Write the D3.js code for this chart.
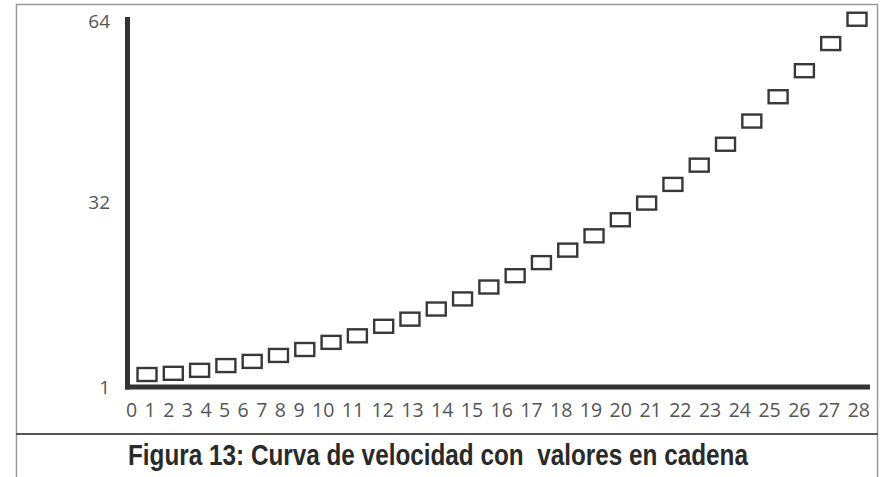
<!DOCTYPE html>
<html>
<head>
<meta charset="utf-8">
<script src="https://cdn.jsdelivr.net/npm/d3@7"></script>
<style>
  body { margin: 0; background: #fff; }
  svg { display: block; }
</style>
</head>
<body>
<script>
// values
var steps = d3.range(1, 29);
var speed = [3.1, 3.3, 3.8, 4.6, 5.3, 6.3, 7.3, 8.5, 9.6, 11.2,
             12.4, 14.1, 15.8, 17.8, 19.7, 21.9, 24.0, 26.4, 29.1, 31.9,
             35.2, 38.6, 42.3, 46.4, 50.7, 55.3, 60.1, 64.4];
var xLabels = d3.range(0, 29).map(String);
var yTicks = [1, 32, 64];
var caption = "Figura 13: Curva de velocidad con\u00a0 valores en cadena";

var width = 888, height = 477;
var axisX = 127.5, axisY = 387, axisTop = 17, axisRight = 870;

var svg = d3.select("body").append("svg")
    .attr("width", width)
    .attr("height", height);

// outer frame + caption separator
svg.append("rect")
    .attr("x", 16.5).attr("y", 4.5)
    .attr("width", 861).attr("height", 490)
    .attr("fill", "none")
    .attr("stroke", "#9a9a9a")
    .attr("stroke-width", 1.5);

svg.append("line")
    .attr("x1", 16).attr("x2", 878)
    .attr("y1", 434).attr("y2", 434)
    .attr("stroke", "#555")
    .attr("stroke-width", 2);

var x = d3.scaleLinear().domain([1, 28]).range([147, 857]);
// the printed scale is not quite even between 1-32 and 32-64
var y = d3.scaleLinear().domain([1, 32, 64]).range([387, 202.5, 21.5]);

// y tick labels
var yAxis = svg.append("g")
    .attr("transform", "translate(110,0)")
    .call(d3.axisLeft(y).tickValues(yTicks).tickSize(0).tickPadding(0));
yAxis.select(".domain").remove();
yAxis.selectAll("text")
    .style("font-family", "'Open Sans', sans-serif")
    .style("font-size", "19px")
    .attr("fill", "#555");

// axis lines
svg.append("line")
    .attr("x1", axisX).attr("x2", axisX)
    .attr("y1", axisTop).attr("y2", axisY + 2.5)
    .attr("stroke", "#333")
    .attr("stroke-width", 5);
svg.append("line")
    .attr("x1", axisX - 2.5).attr("x2", axisRight)
    .attr("y1", axisY).attr("y2", axisY)
    .attr("stroke", "#333")
    .attr("stroke-width", 5);

// x labels: typeset as a run of text spread over the axis length
var xl = svg.append("g").attr("class", "x-labels");
var labs = xl.selectAll("text")
    .data(xLabels)
    .enter().append("text")
    .attr("y", 417)
    .style("font-family", "'Open Sans', sans-serif")
    .style("font-size", "19.5px")
    .attr("fill", "#555")
    .text(function (d) { return d; });

var widths = [];
labs.each(function () { widths.push(this.getComputedTextLength()); });
var gap = (axisRight - 126 - d3.sum(widths)) / (xLabels.length - 1);
var pos = 126;
labs.attr("x", function (d, i) {
    var p = pos;
    pos += widths[i] + gap;
    return p;
});

// markers
svg.append("g")
    .selectAll("rect")
    .data(steps)
    .enter().append("rect")
    .attr("x", function (d) { return x(d) - 9.5; })
    .attr("y", function (d, i) { return y(speed[i]) - 6.5; })
    .attr("width", 19)
    .attr("height", 13)
    .attr("fill", "#fff")
    .attr("stroke", "#383838")
    .attr("stroke-width", 2.4);

// caption, squeezed horizontally to look like the condensed print face
var cap = svg.append("text")
    .attr("x", 0)
    .attr("y", 0)
    .style("font-family", "'Liberation Sans Narrow', 'Liberation Sans', sans-serif")
    .style("font-weight", "bold")
    .style("font-size", "30px")
    .attr("fill", "#2a2a2a")
    .text(caption);
var capW = cap.node().getComputedTextLength();
cap.attr("transform", "translate(128,465) scale(" + (620 / capW) + ",1)");
</script>
</body>
</html>
